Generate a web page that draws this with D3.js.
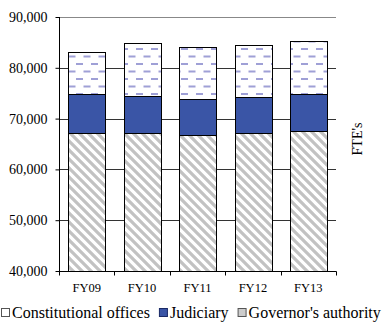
<!DOCTYPE html>
<html><head><meta charset="utf-8">
<script src="https://cdn.jsdelivr.net/npm/d3@7"></script>
<style>body{margin:0;background:#fff;} svg{display:block;} text{font-family:"Liberation Serif","Times New Roman",serif;}</style>
</head><body>
<svg id="c" width="389" height="326"></svg>
<script>
const categories = ["FY09","FY10","FY11","FY12","FY13"];
const governorsAuthority = [67100,67150,66750,67250,67600];
const judiciary = [7700,7300,7150,6950,7250];
const constitutionalOffices = [8300,10450,10100,10200,10500];
const yTicks = [40000,50000,60000,70000,80000,90000];
const seriesNames = ["Governor's authority","Judiciary","Constitutional offices"];
const legendOrder = ["Constitutional offices","Judiciary","Governor's authority"];

const svg = d3.select("#c");
const font = "Liberation Serif";
const defs = svg.append("defs");
// dashed pattern
const pd = defs.append("pattern").attr("id","dash").attr("patternUnits","userSpaceOnUse")
  .attr("width",15).attr("height",15).attr("x",0).attr("y",3);
pd.append("rect").attr("width",15).attr("height",15).attr("fill","#fff");
pd.append("rect").attr("x",1).attr("y",0).attr("width",7).attr("height",2).attr("fill","#9fa0d6");
pd.append("rect").attr("x",8.5).attr("y",7.5).attr("width",7).attr("height",2).attr("fill","#9fa0d6");
pd.append("rect").attr("x",-6.5).attr("y",7.5).attr("width",7).attr("height",2).attr("fill","#9fa0d6");
// diagonal stripes
const ps = defs.append("pattern").attr("id","diag").attr("patternUnits","userSpaceOnUse")
  .attr("width",9).attr("height",9);
ps.append("rect").attr("width",9).attr("height",9).attr("fill","#fff");
ps.append("path").attr("d","M-2,-2 L11,11 M-11,-2 L2,11 M7,-2 L20,11")
  .attr("stroke","#c2c2c2").attr("stroke-width",3.2);

const fills = {"Governor's authority":"url(#diag)","Judiciary":"#3a55a6","Constitutional offices":"url(#dash)"};

const x = d3.scaleBand().domain(categories).range([59,336]).paddingInner(0.34).paddingOuter(0.17);
const y = d3.scaleLinear().domain([40000,90000]).range([271,17]);

// gridlines
svg.append("g").selectAll("line").data(yTicks.slice(1)).join("line")
  .attr("x1",59).attr("x2",336).attr("y1",d=>Math.round(y(d))+0.5).attr("y2",d=>Math.round(y(d))+0.5)
  .attr("stroke",d=>d===90000?"#888":"#333").attr("stroke-width",1);

// stacked data
const rows = categories.map((c,i)=>({cat:c,"Governor's authority":governorsAuthority[i],"Judiciary":judiciary[i],"Constitutional offices":constitutionalOffices[i]}));
const stack = d3.stack().keys(seriesNames)(rows);
svg.append("g").selectAll("g").data(stack).join("g")
  .attr("fill",d=>fills[d.key])
  .selectAll("rect").data(d=>d).join("rect")
  .attr("x",d=>Math.round(x(d.data.cat))+0.5)
  .attr("width",Math.round(x.bandwidth()))
  .attr("y",d=>Math.round(y(d[1]))+0.5)
  .attr("height",d=>Math.round(y(Math.max(d[0],40000)))-Math.round(y(d[1])))
  .attr("stroke","#000").attr("stroke-width",1);

// y axis
const ya = svg.append("g").attr("transform","translate(59.5,0)")
  .call(d3.axisLeft(y).tickValues(yTicks).tickSize(4).tickPadding(8).tickFormat(d3.format(",")));
ya.select(".domain").attr("d","M0,17V271").attr("stroke","#000");
ya.selectAll(".tick line").attr("stroke","#000");
ya.selectAll("text").style("font-family",font).attr("font-size",14).attr("fill","#000");

// x axis
const xa = svg.append("g").attr("transform","translate(0,271.5)");
xa.append("line").attr("x1",59).attr("x2",336.5).attr("stroke","#000");
const step = x.step();
const bounds = d3.range(categories.length+1).map(i=>59+i*step);
xa.selectAll(".bt").data(bounds).join("line").attr("class","bt")
  .attr("x1",d=>Math.round(d)+0.5).attr("x2",d=>Math.round(d)+0.5).attr("y1",0).attr("y2",4).attr("stroke","#000");
xa.selectAll("text").data(categories).join("text")
  .attr("x",d=>x(d)+x.bandwidth()/2).attr("y",20).attr("text-anchor","middle")
  .style("font-family",font).attr("font-size",12.5).text(d=>d);

// y label
svg.append("text").attr("transform","translate(362,139) rotate(-90)").attr("text-anchor","middle")
  .style("font-family",font).attr("font-size",14).text("FTE's");

// legend
const lg = svg.append("g").attr("transform","translate(0,318)");
let lx = 1;
legendOrder.forEach((k,i)=>{
  lg.append("rect").attr("x",lx+0.5).attr("y",-9.5).attr("width",8).attr("height",8)
    .attr("fill",k==="Judiciary"?"#3a55a6":(k==="Governor's authority"?"#ccc":"#fff"))
    .attr("stroke",k==="Judiciary"?"#1a2a66":"#555").attr("stroke-width",1);
  const t = lg.append("text").attr("x",lx+11).attr("y",0).style("font-family",font).attr("font-size",16).text(k);
  lx += 11 + t.node().getComputedTextLength() + 9;
});
</script>
</body></html>
